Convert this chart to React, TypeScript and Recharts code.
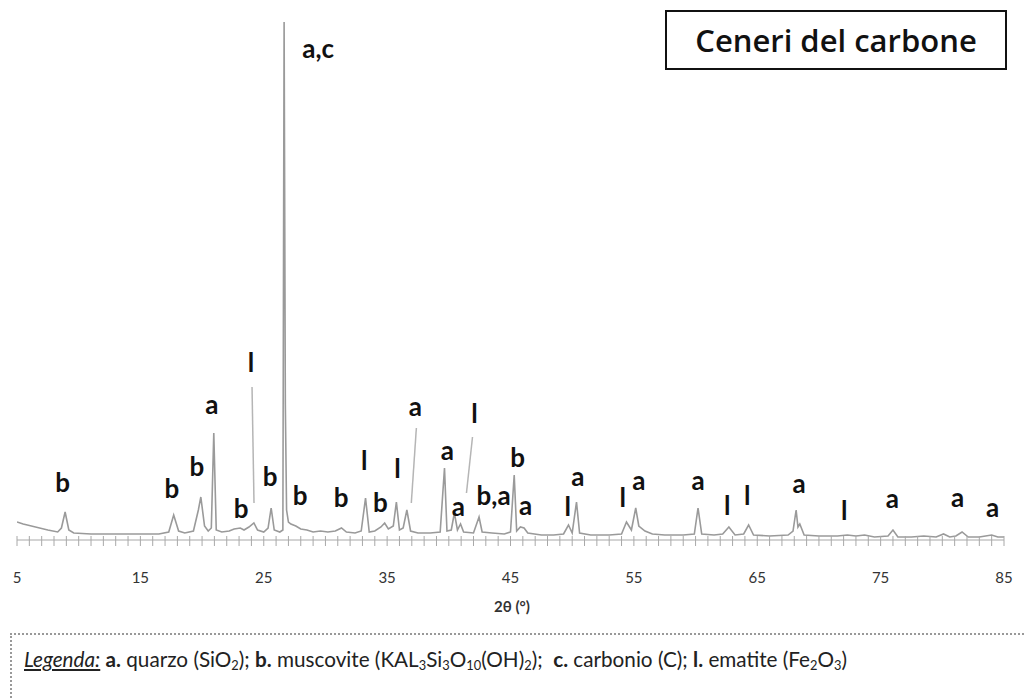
import { ComposedChart, Line, Scatter, XAxis, YAxis, ReferenceLine } from "recharts";

// 2θ (deg) / intensity (arbitrary) of the diffraction trace
const angles = [
  5.0, 5.5, 6.5, 7.5, 8.3, 8.6, 8.9, 9.2, 9.6, 11, 13, 15, 16.5, 17.3, 17.7, 18.1, 18.6, 19.3, 19.7, 19.9,
  20.2, 20.5, 20.75, 20.95, 21.15, 21.6, 22.2, 22.6, 23.1, 23.4, 23.8, 24.2, 24.5, 25.0, 25.35, 25.6, 25.85, 26.3, 26.55, 26.65,
  26.75, 26.85, 27.0, 27.2, 27.6, 28.0, 28.5, 29, 29.6, 30.2, 30.8, 31.3, 31.7, 32.4, 32.9, 33.25, 33.55, 34.0, 34.5, 34.8,
  35.1, 35.5, 35.75, 36.0, 36.3, 36.6, 36.9, 37.5, 38.5, 39.3, 39.65, 39.85, 40.2, 40.45, 40.7, 40.95, 41.2, 42.0, 42.45, 42.7,
  43.5, 44.5, 45.0, 45.3, 45.5, 45.8, 46.1, 46.4, 47.5, 48.5, 49.3, 49.7, 50.0, 50.35, 50.6, 51.5, 53, 54.0, 54.4, 54.8,
  55.15, 55.4, 55.9, 56.5, 57.5, 59, 59.9, 60.2, 60.5, 61.5, 62.2, 62.7, 63.2, 63.9, 64.3, 64.7, 66, 67.5, 67.9, 68.15,
  68.3, 68.45, 68.8, 70, 71.5, 72.3, 73, 73.7, 74.5, 75.6, 76.0, 76.4, 77.5, 78.5, 79.5, 80.1, 80.6, 81.1, 81.6, 82.1,
  83, 84.0, 84.5, 85,
];
const intensity = [
  18, 16, 13, 10, 8, 12, 28, 10, 7, 6, 6, 6, 6, 8, 25, 9, 7, 9, 30, 43,
  14, 9, 12, 107, 10, 8, 9, 11, 12, 10, 13, 17, 10, 8, 12, 32, 10, 8, 10, 518,
  135, 30, 18, 16, 14, 11, 10, 8, 9, 8, 9, 12, 8, 7, 9, 42, 8, 9, 13, 17,
  11, 14, 38, 10, 12, 30, 9, 7, 7, 8, 72, 9, 10, 27, 10, 16, 8, 7, 23, 8,
  7, 6, 8, 65, 9, 13, 12, 7, 5, 5, 6, 15, 7, 38, 7, 5, 5, 6, 18, 10,
  32, 14, 9, 6, 5, 5, 6, 32, 6, 5, 6, 13, 5, 6, 15, 5, 4, 5, 9, 30,
  13, 16, 5, 4, 4, 5, 4, 5, 3, 4, 10, 3, 3, 4, 3, 6, 3, 4, 8, 3,
  3, 5, 3, 3,
];

// phase labels: position (2θ, intensity) and text
const labelAngles = [8.7, 17.55, 19.58, 20.8, 23.16, 23.97, 25.51, 29.41, 27.95, 31.28, 33.15, 34.45, 35.83, 37.29, 39.89, 42.08, 40.78, 43.63, 45.58, 46.23, 49.64, 50.45, 54.1, 55.4, 60.2, 62.56, 64.18, 68.4, 72.06, 75.95, 81.24, 84.08];
const labelHeights = [58, 52, 74, 136, 32, 178, 64, 492, 45, 43, 80, 38, 72, 134, 90, 127, 34, 45, 83, 35, 34, 64, 43, 60, 60, 35, 45, 57, 30, 42, 43, 33];
const labelTexts = ["b", "b", "b", "a", "b", "l", "b", "a,c", "b", "b", "l", "b", "l", "a", "a", "l", "a", "b,a", "b", "a", "l", "a", "l", "a", "a", "l", "l", "a", "l", "a", "a", "a"];

// leader lines from label to peak
const leaders = [
  [24.05, 153, 24.21, 37],
  [37.37, 112, 36.96, 37],
  [41.92, 103, 41.43, 47],
];

const minorTicks = Array.from({ length: 81 }, (_, i) => 5 + i);
const tickLabels = [5, 15, 25, 35, 45, 55, 65, 75, 85];

const trace = angles.map((x, i) => ({ x, y: intensity[i] }));
const labels = labelAngles.map((x, i) => ({ x, y: labelHeights[i], text: labelTexts[i] }));

const font = "Lato, 'Open Sans', sans-serif";
const sub = { fontSize: "0.62em", verticalAlign: "-0.25em" };

function AxisTick(props: any) {
  const { x, y, payload } = props;
  const v = payload.value;
  return (
    <g>
      <line x1={x} x2={x} y1={y - 4} y2={y + 6} stroke="#a8a8a8" strokeWidth={1} />
      {tickLabels.includes(v) && (
        <text x={x} y={y + 37} textAnchor="middle" dominantBaseline="central" fontSize={15} fill="#333" fontFamily={font}>
          {v}
        </text>
      )}
    </g>
  );
}

function PhaseLabel(props: any) {
  const { cx, cy, payload } = props;
  return (
    <text x={cx} y={cy} textAnchor="middle" dominantBaseline="central" fontSize={26} fontWeight={700} fill="#111" fontFamily={font}>
      {payload.text}
    </text>
  );
}

export default function App() {
  return (
    <div style={{ position: "absolute", left: 0, top: 0, width: 1024, height: 700, background: "#fff", overflow: "hidden", fontFamily: font }}>
      <ComposedChart width={1024} height={700} margin={{ left: 17, right: 20, top: 20, bottom: 130 }}>
        <XAxis
          type="number"
          dataKey="x"
          domain={[5, 85]}
          ticks={minorTicks}
          interval={0}
          tick={<AxisTick />}
          tickLine={false}
          tickSize={0}
          tickMargin={0}
          height={30}
          stroke="#a8a8a8"
          allowDataOverflow
        />
        <YAxis type="number" dataKey="y" domain={[0, 520]} hide allowDataOverflow />
        {leaders.map((s, i) => (
          <ReferenceLine key={i} segment={[{ x: s[0], y: s[1] }, { x: s[2], y: s[3] }]} stroke="#b5b5b5" strokeWidth={1.5} />
        ))}
        <Line data={trace} dataKey="y" type="linear" stroke="#9a9a9a" strokeWidth={1.6} dot={false} isAnimationActive={false} />
        <Scatter data={labels} dataKey="y" shape={<PhaseLabel />} isAnimationActive={false} />
      </ComposedChart>

      <div style={{ position: "absolute", left: 665, top: 10, width: 338, height: 56, border: "2px solid #111", display: "flex", alignItems: "center", justifyContent: "center", fontSize: 31, fontWeight: 600, color: "#111", fontFamily: "'Open Sans', sans-serif" }}>
        Ceneri del carbone
      </div>

      <div style={{ position: "absolute", left: 0, width: 1024, top: 597, textAlign: "center", fontSize: 15, fontWeight: 700, color: "#333" }}>
        2θ (°)
      </div>

      <div style={{ position: "absolute", left: 10, top: 633, width: 1030, height: 100, border: "2px dotted #999", boxSizing: "border-box", paddingLeft: 12, paddingTop: 12, fontSize: 20.7, color: "#222", whiteSpace: "nowrap" }}>
        <span style={{ fontStyle: "italic", textDecoration: "underline" }}>Legenda:</span> <b>a.</b> quarzo (SiO<span style={sub}>2</span>); <b>b.</b> muscovite (KAL<span style={sub}>3</span>Si<span style={sub}>3</span>O<span style={sub}>10</span>(OH)<span style={sub}>2</span>);&nbsp; <b>c.</b> carbonio (C); <b>l.</b> ematite (Fe<span style={sub}>2</span>O<span style={sub}>3</span>)
      </div>
    </div>
  );
}
